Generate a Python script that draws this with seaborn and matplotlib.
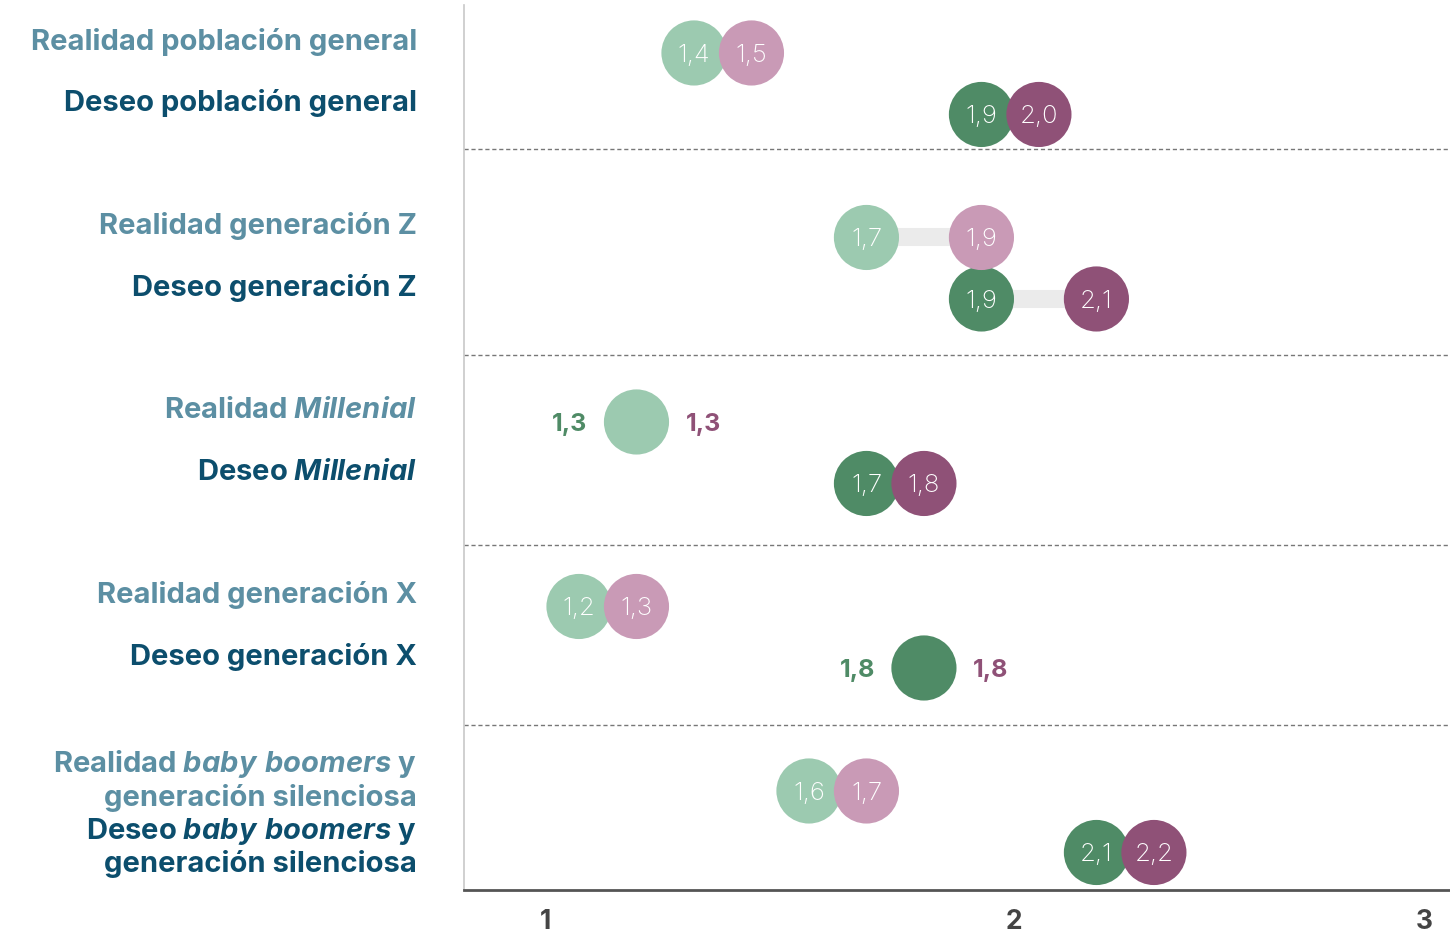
import matplotlib
matplotlib.use("Agg")
import matplotlib.pyplot as plt
import seaborn as sns
import pandas as pd

# Datos (verde y morado por fila)
etiquetas = [
    "Realidad población general",
    "Deseo población general",
    "Realidad generación Z",
    "Deseo generación Z",
    "Realidad $\\mathit{Millenial}$",
    "Deseo $\\mathit{Millenial}$",
    "Realidad generación X",
    "Deseo generación X",
    "Realidad $\\mathit{baby\\ boomers}$ y\ngeneración silenciosa",
    "Deseo $\\mathit{baby\\ boomers}$ y\ngeneración silenciosa",
]
tipo = ["Realidad", "Deseo"] * 5
valores_verde = [1.4, 1.9, 1.7, 1.9, 1.3, 1.7, 1.2, 1.8, 1.6, 2.1]
valores_morado = [1.5, 2.0, 1.9, 2.1, 1.3, 1.8, 1.3, 1.8, 1.7, 2.2]
ticks_labels = ["1", "2", "3"]

# posiciones de maquetación
pos_ticks = [1.141, 1.957, 2.671]
separadores = [1.56, 4.91, 8.0, 10.93]

pal_verde = {"Realidad": "#9ccab0", "Deseo": "#4f8b66"}
pal_morado = {"Realidad": "#c99ab6", "Deseo": "#8f5177"}
col_texto = {"Realidad": "#5c8fa3", "Deseo": "#0c4e6d"}

sns.set_style("white")
plt.rcParams["font.family"] = ["Inter", "DejaVu Sans"]
plt.rcParams["mathtext.fontset"] = "custom"
plt.rcParams["mathtext.rm"] = "Inter:bold"
plt.rcParams["mathtext.it"] = "Inter:italic:bold"

df = pd.DataFrame({"etiqueta": etiquetas, "tipo": tipo,
                   "verde": valores_verde, "morado": valores_morado})
df["fila"] = [i // 2 * 3 + i % 2 for i in range(len(df))]
distintos = df[df.verde != df.morado]
iguales = df[df.verde == df.morado]

fig = plt.figure(figsize=(14.5, 9.33), dpi=100)
ax = fig.add_axes([464 / 1450, 1 - 890 / 933, 986 / 1450, 885 / 933])

# barra gris entre los puntos
ax.hlines(df.fila, df.verde, df.morado, color="#ebebeb", lw=13, zorder=1)

sns.scatterplot(data=df, x="verde", y="fila", hue="tipo", palette=pal_verde,
                s=2200, linewidth=0, legend=False, ax=ax, zorder=2)
sns.scatterplot(data=distintos, x="morado", y="fila", hue="tipo", palette=pal_morado,
                s=2200, linewidth=0, legend=False, ax=ax, zorder=3)

for _, r in distintos.iterrows():
    for v, z in [(r.verde, 4), (r.morado, 5)]:
        ax.text(v, r.fila, f"{v:.1f}".replace(".", ","), color="white", fontsize=18.5,
                fontweight="light", ha="center", va="center_baseline", zorder=z)

for _, r in iguales.iterrows():
    txt = f"{r.verde:.1f}".replace(".", ",")
    ax.annotate(txt, (r.verde, r.fila), xytext=(-48, 0), textcoords="offset points",
                ha="center", va="center_baseline", color="#4f8b66", fontsize=18,
                fontweight="bold")
    ax.annotate(txt, (r.morado, r.fila), xytext=(48, 0), textcoords="offset points",
                ha="center", va="center_baseline", color="#8f5177", fontsize=18,
                fontweight="bold")

# etiquetas de fila a la izquierda (la última va algo más baja)
for i, r in df.iterrows():
    dy = 4 if i == len(df) - 1 else 8
    ax.annotate(r.etiqueta, (-0.0477, r.fila), xycoords=("axes fraction", "data"),
                xytext=(0, dy), textcoords="offset points", ha="right", va="center",
                color=col_texto[r.tipo], fontsize=21, fontweight="bold", linespacing=1.15)

for y in separadores:
    ax.axhline(y, color="#777777", lw=1, ls=(0, (3, 2)), zorder=0)

ax.set_xlim(1, 2.715)
ax.set_ylim(13.61, -0.78)
ax.set_yticks([])
ax.set_xticks(pos_ticks, ticks_labels)
ax.tick_params(axis="x", length=0, pad=14, labelsize=19, labelcolor="#444444")
for t in ax.get_xticklabels():
    t.set_fontweight("bold")
ax.set_xlabel("")
ax.set_ylabel("")
sns.despine(ax=ax)
ax.spines["left"].set_color("#c8c8c8")
ax.spines["left"].set_linewidth(1.2)
ax.spines["bottom"].set_color("#555555")
ax.spines["bottom"].set_linewidth(2)

fig.savefig("out.png", dpi=100)
